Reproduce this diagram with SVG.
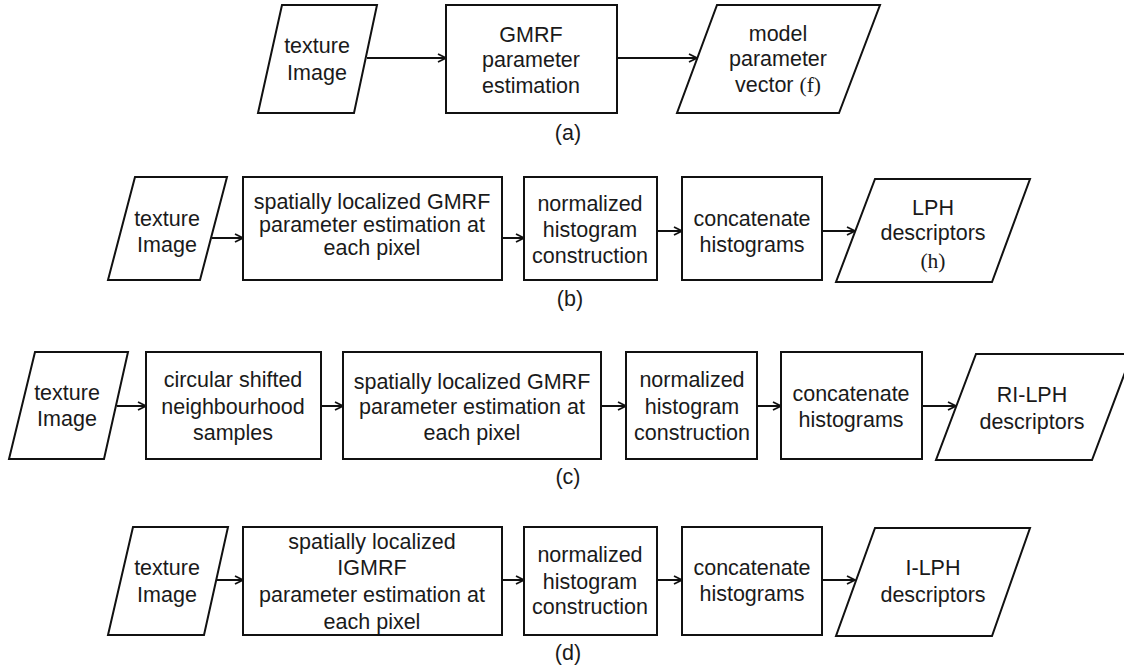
<svg xmlns="http://www.w3.org/2000/svg" width="1124" height="672" viewBox="0 0 1124 672">
<style>
.s{fill:#fff;stroke:#111;stroke-width:2}
.t{font-family:"Liberation Sans",Arial,sans-serif;font-size:21.5px;fill:#1a1a1a;text-anchor:middle}
.m{font-family:"Liberation Serif","Times New Roman",serif}
.c{stroke:#111;stroke-width:2;fill:none}
</style>
<defs>
<marker id="ah" markerUnits="userSpaceOnUse" markerWidth="10" markerHeight="10" refX="9" refY="5" orient="auto">
<path d="M1,1 L9,5 L1,9" fill="none" stroke="#111" stroke-width="1.8"/>
</marker>
</defs>
<rect width="1124" height="672" fill="#fff"/>

<!-- row (a) -->
<g id="a_in"><polygon class="s" points="282,5 377,5 354,113 258,113"/><text class="t" x="317" y="53">texture</text><text class="t" x="317" y="80">Image</text></g>
<g id="a_gmrf"><rect class="s" x="446" y="5" width="171" height="108"/><text class="t" x="531" y="42">GMRF</text><text class="t" x="531" y="67">parameter</text><text class="t" x="531" y="93">estimation</text></g>
<g id="a_out"><polygon class="s" points="717,5 880,5 839,113 677,113"/><text class="t" x="778" y="41">model</text><text class="t" x="778" y="66">parameter</text><text class="t" x="778" y="92">vector <tspan class="m">(f)</tspan></text></g>
<text class="t" x="568" y="140">(a)</text>

<!-- row (b) -->
<g id="b_in"><polygon class="s" points="135,177 227,177 200,280 108,280"/><text class="t" x="167" y="226">texture</text><text class="t" x="167" y="252">Image</text></g>
<g id="b_est"><rect class="s" x="243" y="177" width="259" height="103"/><text class="t" x="372" y="209">spatially localized GMRF</text><text class="t" x="372" y="232">parameter estimation at</text><text class="t" x="372" y="255">each pixel</text></g>
<g id="b_hist"><rect class="s" x="524" y="177" width="133" height="103"/><text class="t" x="590" y="211">normalized</text><text class="t" x="590" y="237">histogram</text><text class="t" x="590" y="263">construction</text></g>
<g id="b_cat"><rect class="s" x="682" y="177" width="140" height="103"/><text class="t" x="752" y="226">concatenate</text><text class="t" x="752" y="252">histograms</text></g>
<g id="b_out"><polygon class="s" points="875,179 1030,179 992,282 836,282"/><text class="t" x="933" y="215">LPH</text><text class="t" x="933" y="240">descriptors</text><text class="t m" x="933" y="268">(h)</text></g>
<text class="t" x="570" y="306">(b)</text>

<!-- row (c) -->
<g id="c_in"><polygon class="s" points="35,352 128,352 104,459 9,459"/><text class="t" x="67" y="400">texture</text><text class="t" x="67" y="426">Image</text></g>
<g id="c_shift"><rect class="s" x="146" y="352" width="175" height="107"/><text class="t" x="233" y="387">circular shifted</text><text class="t" x="233" y="414">neighbourhood</text><text class="t" x="233" y="440">samples</text></g>
<g id="c_est"><rect class="s" x="343" y="352" width="258" height="107"/><text class="t" x="472" y="389">spatially localized GMRF</text><text class="t" x="472" y="414">parameter estimation at</text><text class="t" x="472" y="440">each pixel</text></g>
<g id="c_hist"><rect class="s" x="626" y="352" width="131" height="107"/><text class="t" x="692" y="387">normalized</text><text class="t" x="692" y="414">histogram</text><text class="t" x="692" y="440">construction</text></g>
<g id="c_cat"><rect class="s" x="781" y="352" width="141" height="107"/><text class="t" x="851" y="401">concatenate</text><text class="t" x="851" y="427">histograms</text></g>
<g id="c_out"><polygon class="s" points="976,354 1132,354 1092,460 936,460"/><text class="t" x="1032" y="402">RI-LPH</text><text class="t" x="1032" y="429">descriptors</text></g>
<text class="t" x="568" y="484">(c)</text>

<!-- row (d) -->
<g id="d_in"><polygon class="s" points="133,527 228,527 204,635 108,635"/><text class="t" x="167" y="575">texture</text><text class="t" x="167" y="602">Image</text></g>
<g id="d_est"><rect class="s" x="243" y="527" width="259" height="108"/><text class="t" x="372" y="549">spatially localized</text><text class="t" x="372" y="575">IGMRF</text><text class="t" x="372" y="602">parameter estimation at</text><text class="t" x="372" y="629">each pixel</text></g>
<g id="d_hist"><rect class="s" x="524" y="527" width="133" height="108"/><text class="t" x="590" y="562">normalized</text><text class="t" x="590" y="589">histogram</text><text class="t" x="590" y="614">construction</text></g>
<g id="d_cat"><rect class="s" x="682" y="527" width="140" height="108"/><text class="t" x="752" y="575">concatenate</text><text class="t" x="752" y="601">histograms</text></g>
<g id="d_out"><polygon class="s" points="875,528 1030,528 992,636 836,636"/><text class="t" x="933" y="575">I-LPH</text><text class="t" x="933" y="602">descriptors</text></g>
<text class="t" x="568" y="660">(d)</text>

<g id="connectors">
<line class="c" x1="367" y1="58" x2="446" y2="58" marker-end="url(#ah)"/>
<line class="c" x1="617" y1="58" x2="697" y2="58" marker-end="url(#ah)"/>
<line class="c" x1="212" y1="238" x2="243" y2="238" marker-end="url(#ah)"/>
<line class="c" x1="502" y1="238" x2="524" y2="238" marker-end="url(#ah)"/>
<line class="c" x1="657" y1="231" x2="682" y2="231" marker-end="url(#ah)"/>
<line class="c" x1="822" y1="231" x2="855" y2="231" marker-end="url(#ah)"/>
<line class="c" x1="117" y1="406" x2="146" y2="406" marker-end="url(#ah)"/>
<line class="c" x1="321" y1="406" x2="343" y2="406" marker-end="url(#ah)"/>
<line class="c" x1="601" y1="406" x2="626" y2="406" marker-end="url(#ah)"/>
<line class="c" x1="757" y1="406" x2="781" y2="406" marker-end="url(#ah)"/>
<line class="c" x1="922" y1="406" x2="956" y2="406" marker-end="url(#ah)"/>
<line class="c" x1="216" y1="580" x2="243" y2="580" marker-end="url(#ah)"/>
<line class="c" x1="502" y1="580" x2="524" y2="580" marker-end="url(#ah)"/>
<line class="c" x1="657" y1="580" x2="682" y2="580" marker-end="url(#ah)"/>
<line class="c" x1="822" y1="580" x2="855" y2="580" marker-end="url(#ah)"/>
</g>
</svg>
